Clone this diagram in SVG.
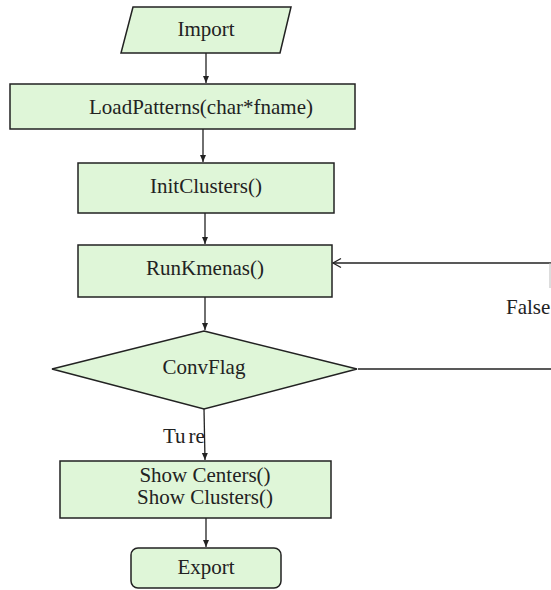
<svg xmlns="http://www.w3.org/2000/svg" width="551" height="590" viewBox="0 0 551 590">
<style>
.n{fill:#dff6d8;stroke:#222;stroke-width:1.5}
.t{font-family:"Liberation Serif","Times New Roman",serif;font-size:21px;fill:#222;text-anchor:middle}
.l{font-family:"Liberation Serif","Times New Roman",serif;font-size:21px;fill:#222}
.c{fill:none;stroke:#222;stroke-width:1.3}
</style>
<defs>
<marker id="a" markerWidth="8" markerHeight="8" refX="7" refY="4" orient="auto" markerUnits="userSpaceOnUse">
<path d="M0,1 L7,4 L0,7 Z" fill="#222"/>
</marker>
<marker id="o" markerWidth="12" markerHeight="12" refX="10" refY="6" orient="auto" markerUnits="userSpaceOnUse">
<path d="M2,1.5 L10,6 L2,10.5" fill="none" stroke="#222" stroke-width="1.3"/>
</marker>
</defs>
<rect width="551" height="590" fill="#fff"/>
<g id="connectors">
<line class="c" x1="206" y1="53" x2="206" y2="83" marker-end="url(#a)"/>
<line class="c" x1="203" y1="129" x2="203" y2="162" marker-end="url(#a)"/>
<line class="c" x1="205" y1="213" x2="205" y2="244" marker-end="url(#a)"/>
<line class="c" x1="205" y1="297" x2="205" y2="330" marker-end="url(#a)"/>
<line class="c" x1="204" y1="409" x2="205" y2="460" marker-end="url(#a)"/>
<line class="c" x1="206" y1="518" x2="206" y2="547" marker-end="url(#a)"/>
<line class="c" x1="358" y1="369" x2="551" y2="369"/>
<line class="c" x1="551" y1="263" x2="333" y2="263" marker-end="url(#o)"/>
<line x1="550" y1="263" x2="550" y2="288" stroke="#bbb" stroke-width="1"/>
<text class="l" x="506" y="314">False</text>
<text class="l" x="163" y="443">Tu<tspan dx="3">re</tspan></text>
</g>
<g id="import">
<polygon class="n" points="133,7 291,7 280,53 121,53"/>
<text class="t" x="206" y="36">Import</text>
</g>
<g id="loadpatterns">
<rect class="n" x="10" y="84" width="345" height="45"/>
<text class="t" x="201" y="114">LoadPatterns(char*fname)</text>
</g>
<g id="initclusters">
<rect class="n" x="78" y="163" width="256" height="50"/>
<text class="t" x="206" y="193">InitClusters()</text>
</g>
<g id="runkmenas">
<rect class="n" x="78" y="245" width="254" height="52"/>
<text class="t" x="205" y="275">RunKmenas()</text>
</g>
<g id="convflag">
<polygon class="n" points="204,331 357,369 204,409 52,369"/>
<text class="t" x="204" y="374">ConvFlag</text>
</g>
<g id="show">
<rect class="n" x="60" y="461" width="271" height="57"/>
<text class="t" x="205" y="482">Show Centers()</text>
<text class="t" x="205" y="504">Show Clusters()</text>
</g>
<g id="export">
<rect class="n" x="131" y="548" width="150" height="40" rx="7"/>
<text class="t" x="206" y="574">Export</text>
</g>
</svg>
